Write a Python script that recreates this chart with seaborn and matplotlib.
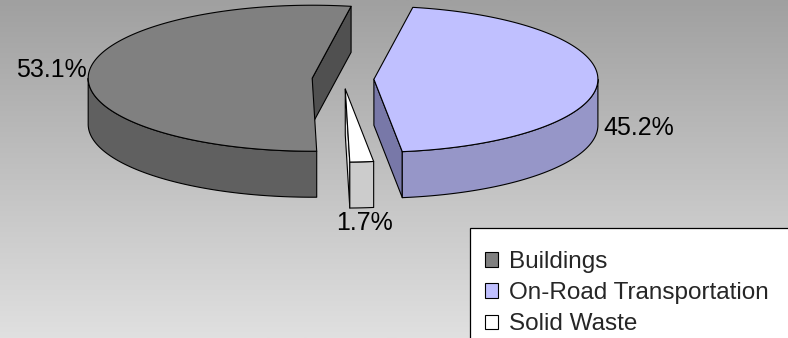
import numpy as np
import seaborn as sns
import matplotlib.pyplot as plt
from matplotlib.patches import Polygon, Patch, Rectangle

sns.set_style("white")
plt.rcParams["font.family"] = ["Liberation Sans", "DejaVu Sans"]

# Dati del grafico
categorie = ["Buildings", "On-Road Transportation", "Solid Waste"]
quote = [53.1, 45.2, 1.7]
colori_top = ["#808080", "#C0C0FF", "#FFFFFF"]
colori_lato = ["#606060", "#9696C8", "#CCCCCC"]
colori_taglio = ["#505050", "#7878A8", "#E4E4E4"]
# ordine delle fette in senso orario partendo dall'angolo iniziale
ordine = [1, 2, 0]

# Geometria della torta 3D (in pixel)
cx, cy = 343, 79
a, b = 224, 73
spessore = 46
esplosione = 0.138
inizio = 10.0

fig = plt.figure(figsize=(7.88, 3.38), dpi=100)
ax = fig.add_axes([0, 0, 1, 1])
ax.set_xlim(0, 788)
ax.set_ylim(338, 0)
ax.axis("off")

# Sfondo sfumato
grad = np.linspace(0, 1, 256).reshape(-1, 1)
ax.imshow(grad, extent=(0, 788, 338, 0), cmap=sns.blend_palette(["#A0A0A0", "#E0E0E0"], as_cmap=True),
          aspect="auto", zorder=0)


def punto(c, th, r=1.0, z=0.0):
    t = np.radians(th)
    return (c[0] + a * r * np.sin(t), c[1] - b * r * np.cos(t) + z)


def arco(c, t1, t2, z=0.0):
    ts = np.linspace(t1, t2, max(int(abs(t2 - t1)) + 2, 3))
    return [punto(c, t, 1.0, z) for t in ts]


tot = sum(quote)
quote_ord = [quote[i] for i in ordine]
angoli = np.cumsum([0] + [q / tot * 360 for q in quote_ord]) + inizio
kw = dict(edgecolor="black", linewidth=0.8, joinstyle="round")

for k, i in enumerate(ordine):
    t1, t2 = angoli[k], angoli[k + 1]
    mid = (t1 + t2) / 2
    c = (cx + a * esplosione * np.sin(np.radians(mid)), cy - b * esplosione * np.cos(np.radians(mid)))
    z0 = 10 + k * 3

    # facce di taglio visibili
    for th, vis in [(t1, np.sin(np.radians(t1)) < 0), (t2, np.sin(np.radians(t2)) > 0)]:
        if vis:
            p = punto(c, th)
            faccia = [c, p, (p[0], p[1] + spessore), (c[0], c[1] + spessore)]
            ax.add_patch(Polygon(faccia, closed=True, facecolor=colori_taglio[i], zorder=z0, **kw))

    # parete esterna (parte frontale)
    for shift in (0, 360):
        lo, hi = max(t1, 90 + shift), min(t2, 270 + shift)
        if hi > lo:
            pts = arco(c, lo, hi) + arco(c, hi, lo, spessore)
            ax.add_patch(Polygon(pts, closed=True, facecolor=colori_lato[i], zorder=z0 + 1, **kw))

    # faccia superiore
    pts = [c] + arco(c, t1, t2)
    ax.add_patch(Polygon(pts, closed=True, facecolor=colori_top[i], zorder=z0 + 2, **kw))

# Etichette percentuali
pos_etichette = [(87, 70, "right"), (603, 128, "left"), (365, 223, "center")]
for q, (x, y, ha) in zip(quote, pos_etichette):
    ax.text(x, y, f"{q:.1f}%", fontsize=18, ha=ha, va="center", color="black", zorder=30)

# Legenda (cornice tagliata dal bordo dell'immagine)
ax.add_patch(Rectangle((470, 228), 340, 130, facecolor="white", edgecolor="black", linewidth=0.9,
                       zorder=35, clip_on=False))
maniglie = [Patch(facecolor=col, edgecolor="black", linewidth=0.8) for col in colori_top]
leg = ax.legend(maniglie, categorie, loc="upper left", bbox_to_anchor=(485 / 788, 1 - 251 / 338),
                bbox_transform=fig.transFigure, fontsize=17.5, frameon=False,
                handlelength=0.55, handleheight=0.55, handletextpad=0.45, labelspacing=0.38,
                borderpad=0, borderaxespad=0)
leg.set_zorder(40)

fig.savefig("out.png", dpi=100)
